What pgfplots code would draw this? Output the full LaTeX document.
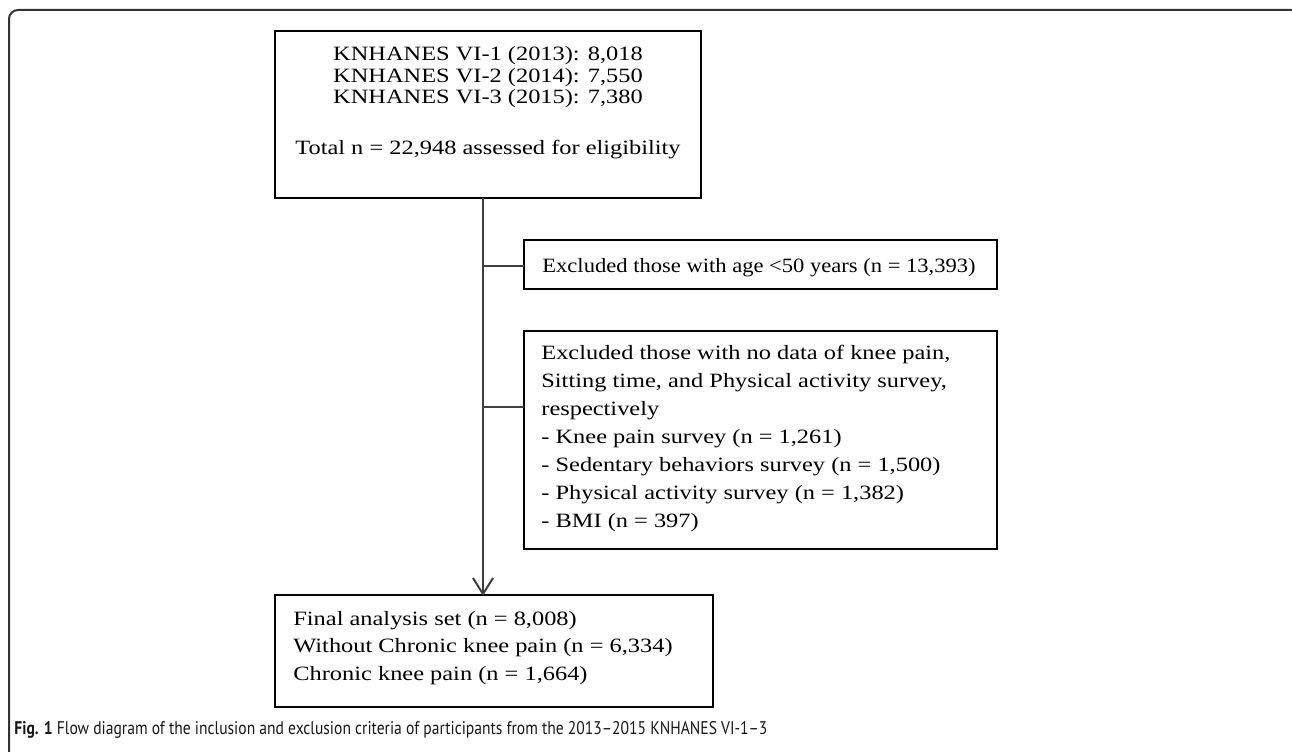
\documentclass[border=0pt]{standalone}
\usepackage{pgfplots}
\pgfplotsset{compat=1.18}
\usepackage{fontspec}
\setmainfont{Liberation Serif}
\newfontfamily\boxfont[FakeStretch=1.2]{Liberation Serif}
\newfontfamily\boxfontb[FakeStretch=1.11]{Liberation Serif}
\newfontfamily\capfont[FakeStretch=0.85]{PT Sans}
\begin{document}
\begin{tikzpicture}
\begin{axis}[
  width=646bp, height=376bp, scale only axis,
  xmin=0, xmax=1292, ymin=0, ymax=752, y dir=reverse,
  hide axis, clip=true,
]
% background
\addplot[fill=white, draw=none] coordinates {(0,0) (1292,0) (1292,752) (0,752)} -- cycle;
% outer frame
\draw[line width=1bp, draw=black!80, rounded corners=4.5bp] (axis cs:9,770) -- (axis cs:9,10) -- (axis cs:1300,10) -- (axis cs:1300,770);
% boxes
\addplot[black, line width=1bp, line join=miter] coordinates {(275,31) (701,31) (701,198) (275,198)} -- cycle;
\addplot[black, line width=1bp, line join=miter] coordinates {(524,240) (997,240) (997,289) (524,289)} -- cycle;
\addplot[black, line width=1bp, line join=miter] coordinates {(524,331) (997,331) (997,549) (524,549)} -- cycle;
\addplot[black, line width=1bp, line join=miter] coordinates {(275,595) (713,595) (713,707) (275,707)} -- cycle;
% connectors
\addplot[black!75, line width=1bp] coordinates {(483,198) (483,594)};
\addplot[black!75, line width=1bp] coordinates {(483,266) (524,266)};
\addplot[black!75, line width=1bp] coordinates {(483,407) (524,407)};
\addplot[black!75, line width=1bp] coordinates {(473,578) (483,594) (493,578)};
% texts box 1
\node[anchor=base, font=\boxfont\fontsize{10.2}{10}\selectfont] at (axis cs:488,61) {KNHANES VI-1 (2013): 8,018};
\node[anchor=base, font=\boxfont\fontsize{10.2}{10}\selectfont] at (axis cs:488,82.5) {KNHANES VI-2 (2014): 7,550};
\node[anchor=base, font=\boxfont\fontsize{10.2}{10}\selectfont] at (axis cs:488,103.5) {KNHANES VI-3 (2015): 7,380};
\node[anchor=base, font=\boxfont\fontsize{10.2}{10}\selectfont] at (axis cs:488,154) {Total n = 22,948 assessed for eligibility};
% box 2
\node[anchor=base west, inner sep=0pt, font=\boxfontb\fontsize{10.2}{10}\selectfont] at (axis cs:542,272) {Excluded those with age <50 years (n = 13,393)};
% box 3
\node[anchor=base west, inner sep=0pt, font=\boxfont\fontsize{10.2}{10}\selectfont] at (axis cs:541,359) {Excluded those with no data of knee pain,};
\node[anchor=base west, inner sep=0pt, font=\boxfont\fontsize{10.2}{10}\selectfont] at (axis cs:541,387) {Sitting time, and Physical activity survey,};
\node[anchor=base west, inner sep=0pt, font=\boxfont\fontsize{10.2}{10}\selectfont] at (axis cs:541,415) {respectively};
\node[anchor=base west, inner sep=0pt, font=\boxfont\fontsize{10.2}{10}\selectfont] at (axis cs:541,443) {- Knee pain survey (n = 1,261)};
\node[anchor=base west, inner sep=0pt, font=\boxfont\fontsize{10.2}{10}\selectfont] at (axis cs:541,471) {- Sedentary behaviors survey (n = 1,500)};
\node[anchor=base west, inner sep=0pt, font=\boxfont\fontsize{10.2}{10}\selectfont] at (axis cs:541,499) {- Physical activity survey (n = 1,382)};
\node[anchor=base west, inner sep=0pt, font=\boxfont\fontsize{10.2}{10}\selectfont] at (axis cs:541,527) {- BMI (n = 397)};
% box 4
\node[anchor=base west, inner sep=0pt, font=\boxfont\fontsize{10.2}{10}\selectfont] at (axis cs:293,625) {Final analysis set (n = 8,008)};
\node[anchor=base west, inner sep=0pt, font=\boxfont\fontsize{10.2}{10}\selectfont] at (axis cs:293,652) {Without Chronic knee pain (n = 6,334)};
\node[anchor=base west, inner sep=0pt, font=\boxfont\fontsize{10.2}{10}\selectfont] at (axis cs:293,680) {Chronic knee pain (n = 1,664)};
% caption
\node[anchor=base west, inner sep=0pt, text=black!90, font=\capfont\fontsize{9.2}{10}\selectfont] at (axis cs:14,734) {\textbf{Fig. 1} Flow diagram of the inclusion and exclusion criteria of participants from the 2013–2015 KNHANES VI-1–3};
\end{axis}
\end{tikzpicture}
\end{document}
